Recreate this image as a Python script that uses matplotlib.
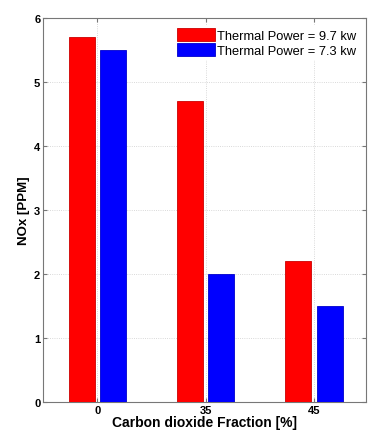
import numpy as np
import matplotlib
matplotlib.use('Agg')
import matplotlib.pyplot as plt

# Data
categories = ['0', '35', '45']
power_97 = [5.7, 4.7, 2.2]
power_73 = [5.5, 2.0, 1.5]
labels = ['Thermal Power = 9.7 kw', 'Thermal Power = 7.3 kw']

plt.rcParams['font.family'] = ['Liberation Sans', 'DejaVu Sans']

fig = plt.figure(figsize=(3.68, 4.35), dpi=100)
ax = fig.add_axes([0.117, 0.074, 0.878, 0.883])

x = np.arange(1, len(categories) + 1)
w = 0.24
ax.bar(x - 0.145, power_97, w, color='#ff0000', edgecolor='#cc0000', linewidth=0.6, label=labels[0], zorder=3)
ax.bar(x + 0.145, power_73, w, color='#0000ff', edgecolor='#0000cc', linewidth=0.6, label=labels[1], zorder=3)

ax.set_xlim(0.5, 3.48)
ax.set_ylim(0, 6)
ax.set_xticks(x)
ax.set_xticklabels(categories)
ax.set_yticks(range(0, 7))

ax.grid(True, linestyle=':', color='#cccccc', linewidth=0.6, zorder=0)
ax.tick_params(axis='both', labelsize=8, direction='in', length=3, top=True, right=True, pad=2,
               color='#777777')
for lbl in ax.get_xticklabels() + ax.get_yticklabels():
    lbl.set_fontweight('bold')
for sp in ax.spines.values():
    sp.set_color('#777777')
    sp.set_linewidth(0.8)

ax.set_xlabel('Carbon dioxide Fraction [%]', fontsize=10, fontweight='bold', labelpad=0)
ax.set_ylabel('NOx [PPM]', fontsize=9.5, fontweight='bold', labelpad=3)

leg = ax.legend(loc='upper right', fontsize=9.3, frameon=True, fancybox=False,
                handlelength=2.9, handleheight=1.15, handletextpad=0.15,
                borderaxespad=0.6, labelspacing=0.1, borderpad=0.2)
leg.get_frame().set_edgecolor('white')
leg.get_frame().set_alpha(1)

fig.savefig('out.png', dpi=100)
